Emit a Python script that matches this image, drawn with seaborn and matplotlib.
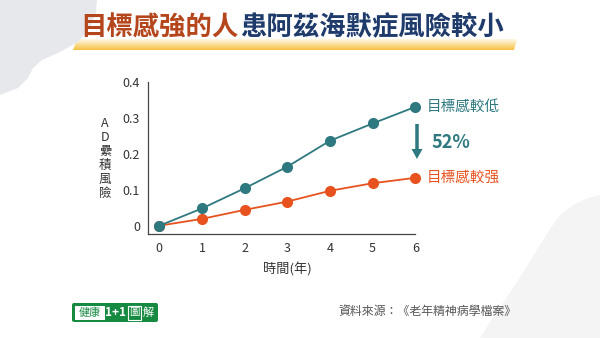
import numpy as np
import pandas as pd
import matplotlib
matplotlib.use("Agg")
import matplotlib.pyplot as plt
import seaborn as sns
from matplotlib.patches import Polygon, FancyBboxPatch, Rectangle, FancyArrow

# ---- data -------------------------------------------------------------
years = [0, 1, 2, 3, 4, 5, 6]
risk_low_purpose = [0.0, 0.048, 0.104, 0.164, 0.236, 0.284, 0.330]
risk_high_purpose = [0.0, 0.019, 0.044, 0.067, 0.097, 0.118, 0.133]
group_names = ["目標感較低", "目標感較强"]
x_ticks = [0, 1, 2, 3, 4, 5, 6]
y_ticks = [0, 0.1, 0.2, 0.3, 0.4]
y_tick_labels = ["0", "0.1", "0.2", "0.3", "0.4"]
reduction_label = "52%"

title_left = "目標感強的人"
title_right = "患阿茲海默症風險較小"
x_label = "時間(年)"
y_label = "\n".join(["A", "D", "纍", "積", "風", "險"])
source_text = "資料來源：《老年精神病學檔案》"

TEAL = "#2e7880"
ORANGE = "#e8521f"
TEXT = "#333333"

df = pd.DataFrame({
    "年": years * 2,
    "風險": risk_low_purpose + risk_high_purpose,
    "組別": [group_names[0]] * len(years) + [group_names[1]] * len(years),
})

sns.set_theme(style="white")
plt.rcParams["font.family"] = ["Noto Sans CJK TC", "DejaVu Sans"]

W, H = 600, 338
fig = plt.figure(figsize=(W / 100, H / 100), dpi=100)
fig.patch.set_facecolor("white")

# ---- background layer in pixel coordinates ----------------------------
bg = fig.add_axes([0, 0, 1, 1], zorder=0)
bg.axis("off")

bg.add_patch(Polygon([(0, 0), (97, 0), (96, 12), (90, 28), (78, 42), (60, 52),
                      (42, 60), (33, 68), (28, 78), (18, 88), (0, 95)],
                     closed=True, fc="#e7e8ec", ec="none"))
bg.add_patch(Polygon([(600, 195), (588, 198), (575, 204), (560, 215), (548, 232),
                      (532, 258), (515, 285), (500, 308), (488, 325), (480, 338),
                      (600, 338)], closed=True, fc="#f4f4f5", ec="none"))

# highlighter bar under the title
grad = np.zeros((40, 1, 4))
t = np.linspace(0, 1, 40)
grad[:, 0, 0] = 0.97
grad[:, 0, 1] = 0.80 - 0.05 * t
grad[:, 0, 2] = 0.30 - 0.05 * t
grad[:, 0, 3] = 0.15 + 0.85 * t
im = bg.imshow(grad, extent=(73, 517, 50, 39), aspect="auto", interpolation="bilinear")
clip = Polygon([(77, 39), (517, 39), (514, 50), (73, 50)], closed=True,
               transform=bg.transData)
im.set_clip_path(clip)

bg.set_xlim(0, W)
bg.set_ylim(H, 0)

bg.text(238, 28, title_left, ha="right", va="center", fontsize=19,
        fontweight="bold", color="#b5461c")
bg.text(240, 28, title_right, ha="left", va="center", fontsize=19,
        fontweight="bold", color="#1e3b6c")

# arrow and reduction between the two end labels
bg.add_patch(FancyArrow(417, 124, 0, 35, width=3.5, head_width=11,
                        head_length=10, length_includes_head=True,
                        color=TEAL, ec="none"))
bg.text(432, 142, reduction_label, ha="left", va="center", fontsize=13,
        fontweight="bold", color=TEAL)

# source line
bg.text(338, 311, source_text, ha="left", va="center", fontsize=8.6,
        color="#555555")

# logo badge
bg.add_patch(FancyBboxPatch((72, 303), 86, 19,
                            boxstyle="round,pad=0,rounding_size=2",
                            fc="#178a42", ec="none"))
bg.add_patch(Rectangle((74.5, 305.5), 30, 14, fc="white", ec="none"))
bg.text(89.5, 312.5, "健康", ha="center", va="center", fontsize=8,
        color="#178a42")
bg.text(116, 312.2, "1+1", ha="center", va="center", fontsize=8.5,
        fontweight="bold", color="white")
bg.add_patch(Rectangle((128, 305.5), 13, 14, fc="none", ec="white", lw=0.8))
bg.text(134.5, 312.5, "圖", ha="center", va="center", fontsize=7.5,
        color="white")
bg.text(148.5, 312.5, "解", ha="center", va="center", fontsize=8,
        color="white")

# ---- chart ------------------------------------------------------------
ax = fig.add_axes([148.3 / W, 1 - 234 / H, (415.3 - 148.3) / W, (234 - 81.7) / H],
                  zorder=1)
ax.patch.set_alpha(0)

sns.lineplot(data=df, x="年", y="風險", hue="組別",
             hue_order=[group_names[1], group_names[0]],
             palette={group_names[0]: TEAL, group_names[1]: ORANGE},
             marker="o", markersize=8, markeredgewidth=0, linewidth=1.3,
             legend=False, ax=ax, clip_on=False)

ax.set_xlim(-0.258, 6)
ax.set_ylim(-0.023, 0.4)
ax.set_xticks(x_ticks)
ax.set_yticks(y_ticks)
ax.set_yticklabels(y_tick_labels)
for side in ["top", "right"]:
    ax.spines[side].set_visible(False)
for side in ["left", "bottom"]:
    ax.spines[side].set_color("#444444")
    ax.spines[side].set_linewidth(0.9)
ax.tick_params(axis="both", direction="out", length=3, width=0.9,
               color="#444444", labelsize=9, labelcolor=TEXT, pad=3)

ax.set_xlabel(x_label, fontsize=9.5, color=TEXT)
ax.xaxis.set_label_coords((3 + 0.258) / 6.258, -0.19)
ax.set_ylabel(y_label, rotation=0, fontsize=9, color=TEXT, linespacing=1.11,
              ha="center", va="center")
ax.yaxis.set_label_coords(-0.162, 0.495)

# end-of-line labels
for name, values, color in [(group_names[0], risk_low_purpose, TEAL),
                            (group_names[1], risk_high_purpose, ORANGE)]:
    ax.annotate(name, xy=(years[-1], values[-1]), xytext=(8.5, 0),
                textcoords="offset points", ha="left", va="center",
                fontsize=10.5, color=color, annotation_clip=False)

fig.savefig("out.png", dpi=100, facecolor="white")
